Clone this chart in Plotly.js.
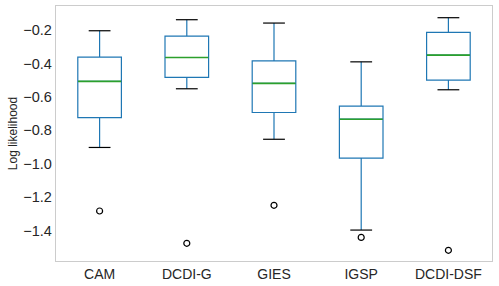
<!DOCTYPE html>
<html>
<head>
<meta charset="utf-8">
<script src="https://cdn.plot.ly/plotly-3.0.1.min.js"></script>
<style>html,body{margin:0;padding:0;background:#fff;}#chart{width:499px;height:286px;}</style>
</head>
<body>
<div id="chart"></div>
<script>
const categories = ["CAM", "DCDI-G", "GIES", "IGSP", "DCDI-DSF"];
const upperWhisker = [-0.204, -0.138, -0.158, -0.390, -0.126];
const q3 = [-0.362, -0.236, -0.384, -0.655, -0.214];
const median = [-0.507, -0.364, -0.519, -0.733, -0.350];
const q1 = [-0.723, -0.483, -0.693, -0.966, -0.499];
const lowerWhisker = [-0.902, -0.551, -0.853, -1.396, -0.557];
const outliers = [[-1.282], [-1.475], [-1.248], [-1.440], [-1.517]];

const pos = categories.map((c, i) => i);
const boxColor = "#1f77b4";
const medColor = "#2ca02c";

const traces = [];
traces.push({
  type: "box",
  x: pos,
  q1: q1, median: median, q3: q3,
  lowerfence: lowerWhisker, upperfence: upperWhisker,
  width: 0.5,
  whiskerwidth: 0,
  boxpoints: false,
  line: {color: boxColor, width: 1.2},
  fillcolor: "rgba(0,0,0,0)",
  hoverinfo: "skip",
  showlegend: false
});
// median lines
const mx = [], my = [];
pos.forEach((p, i) => { mx.push(p - 0.247, p + 0.247, null); my.push(median[i], median[i], null); });
traces.push({type: "scatter", mode: "lines", x: mx, y: my, line: {color: medColor, width: 1.6}, showlegend: false, hoverinfo: "skip"});
// whisker caps
const cx = [], cy = [];
pos.forEach((p, i) => {
  cx.push(p - 0.125, p + 0.125, null); cy.push(upperWhisker[i], upperWhisker[i], null);
  cx.push(p - 0.125, p + 0.125, null); cy.push(lowerWhisker[i], lowerWhisker[i], null);
});
traces.push({type: "scatter", mode: "lines", x: cx, y: cy, line: {color: "#000000", width: 1.2}, showlegend: false, hoverinfo: "skip"});
// outliers
const ox = [], oy = [];
pos.forEach((p, i) => outliers[i].forEach(v => { ox.push(p); oy.push(v); }));
traces.push({type: "scatter", mode: "markers", x: ox, y: oy,
  marker: {symbol: "circle-open", color: "#000000", size: 6, line: {width: 1.2, color: "#000000"}},
  showlegend: false, hoverinfo: "skip"});

const layout = {
  width: 499, height: 286,
  margin: {l: 56, r: 7, t: 6, b: 25},
  paper_bgcolor: "#ffffff", plot_bgcolor: "#ffffff",
  font: {family: "Liberation Sans, Arial, sans-serif", color: "#262626", size: 14},
  xaxis: {
    range: [-0.5, 4.5], tickvals: pos, ticktext: categories,
    showgrid: false, zeroline: false, showline: true, mirror: true,
    linecolor: "#cccccc", linewidth: 1.25, ticks: "", tickfont: {size: 14, color: "#262626"}
  },
  yaxis: {
    range: [-1.581, -0.056], tickvals: [-1.4, -1.2, -1.0, -0.8, -0.6, -0.4, -0.2],
    ticktext: ["\u22121.4", "\u22121.2", "\u22121.0", "\u22120.8", "\u22120.6", "\u22120.4", "\u22120.2"],
    showgrid: false, zeroline: false, showline: true, mirror: true,
    linecolor: "#cccccc", linewidth: 1.25, ticks: "", ticklen: 0, tickfont: {size: 14.5, color: "#262626"},
    title: {text: "Log likelihood", font: {size: 12, color: "#262626"}, standoff: 3}
  },
  showlegend: false
};
Plotly.newPlot("chart", traces, layout, {staticPlot: true, displayModeBar: false});
</script>
</body>
</html>
